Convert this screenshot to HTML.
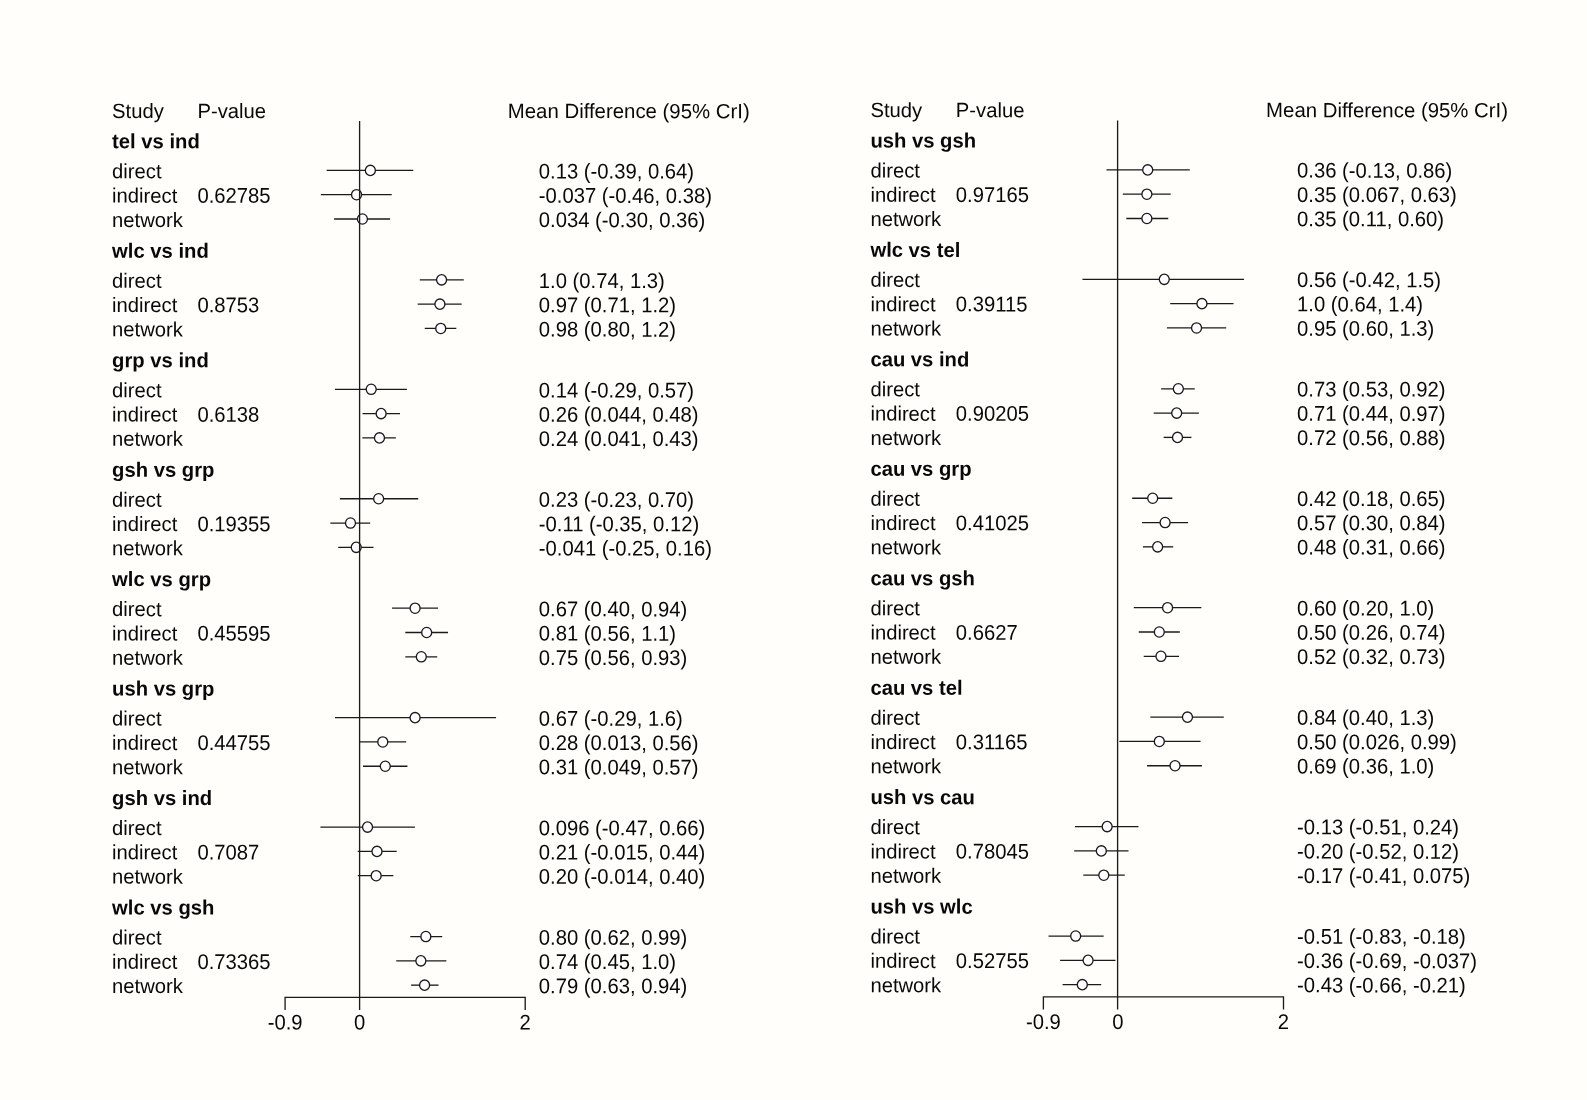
<!DOCTYPE html>
<html><head><meta charset="utf-8"><title>Forest plot</title>
<style>
html,body{margin:0;padding:0;background:#fffefa;}
body{width:1587px;height:1100px;overflow:hidden;}
svg{display:block;will-change:transform;}
text{font-family:"Liberation Sans",sans-serif;font-size:20px;fill:#080808;}
text.b{font-weight:bold;}
.ln line,.ln path{stroke:#1a1a1a;stroke-width:1.33;stroke-linecap:square;}
.ci ellipse{fill:#fff;stroke:#1a1a1a;stroke-width:1.33;}
</style></head><body>
<svg width="1587" height="1100" viewBox="0 0 1587 1100">
<g>
<rect width="1587" height="1100" fill="#fffefa"/>
<g>
<text transform="translate(112.10 118.00) skewY(0.05) scale(1.012 1.03)">Study</text>
<text transform="translate(197.50 118.00) skewY(0.05) scale(1.012 1.03)">P-value</text>
<text transform="translate(507.80 118.00) skewY(0.05) scale(1.019 1.03)">Mean Difference (95% CrI)</text>
<text transform="translate(112.10 148.30) skewY(0.05) scale(1.012 1.03)" class="b">tel vs ind</text>
<text transform="translate(112.10 178.30) skewY(0.05) scale(1.012 1.03)">direct</text>
<text transform="translate(538.80 178.50) skewY(0.05) scale(1.012 1.065)">0.13 (-0.39, 0.64)</text>
<text transform="translate(112.10 202.60) skewY(0.05) scale(1.012 1.03)">indirect</text>
<text transform="translate(197.50 202.80) skewY(0.05) scale(1.012 1.065)">0.62785</text>
<text transform="translate(538.80 202.80) skewY(0.05) scale(1.012 1.065)">-0.037 (-0.46, 0.38)</text>
<text transform="translate(112.10 226.90) skewY(0.05) scale(1.012 1.03)">network</text>
<text transform="translate(538.80 227.10) skewY(0.05) scale(1.012 1.065)">0.034 (-0.30, 0.36)</text>
<text transform="translate(112.10 257.75) skewY(0.05) scale(1.012 1.03)" class="b">wlc vs ind</text>
<text transform="translate(112.10 287.75) skewY(0.05) scale(1.012 1.03)">direct</text>
<text transform="translate(538.80 287.95) skewY(0.05) scale(1.012 1.065)">1.0 (0.74, 1.3)</text>
<text transform="translate(112.10 312.05) skewY(0.05) scale(1.012 1.03)">indirect</text>
<text transform="translate(197.50 312.25) skewY(0.05) scale(1.012 1.065)">0.8753</text>
<text transform="translate(538.80 312.25) skewY(0.05) scale(1.012 1.065)">0.97 (0.71, 1.2)</text>
<text transform="translate(112.10 336.35) skewY(0.05) scale(1.012 1.03)">network</text>
<text transform="translate(538.80 336.55) skewY(0.05) scale(1.012 1.065)">0.98 (0.80, 1.2)</text>
<text transform="translate(112.10 367.20) skewY(0.05) scale(1.012 1.03)" class="b">grp vs ind</text>
<text transform="translate(112.10 397.20) skewY(0.05) scale(1.012 1.03)">direct</text>
<text transform="translate(538.80 397.40) skewY(0.05) scale(1.012 1.065)">0.14 (-0.29, 0.57)</text>
<text transform="translate(112.10 421.50) skewY(0.05) scale(1.012 1.03)">indirect</text>
<text transform="translate(197.50 421.70) skewY(0.05) scale(1.012 1.065)">0.6138</text>
<text transform="translate(538.80 421.70) skewY(0.05) scale(1.012 1.065)">0.26 (0.044, 0.48)</text>
<text transform="translate(112.10 445.80) skewY(0.05) scale(1.012 1.03)">network</text>
<text transform="translate(538.80 446.00) skewY(0.05) scale(1.012 1.065)">0.24 (0.041, 0.43)</text>
<text transform="translate(112.10 476.65) skewY(0.05) scale(1.012 1.03)" class="b">gsh vs grp</text>
<text transform="translate(112.10 506.65) skewY(0.05) scale(1.012 1.03)">direct</text>
<text transform="translate(538.80 506.85) skewY(0.05) scale(1.012 1.065)">0.23 (-0.23, 0.70)</text>
<text transform="translate(112.10 530.95) skewY(0.05) scale(1.012 1.03)">indirect</text>
<text transform="translate(197.50 531.15) skewY(0.05) scale(1.012 1.065)">0.19355</text>
<text transform="translate(538.80 531.15) skewY(0.05) scale(1.012 1.065)">-0.11 (-0.35, 0.12)</text>
<text transform="translate(112.10 555.25) skewY(0.05) scale(1.012 1.03)">network</text>
<text transform="translate(538.80 555.45) skewY(0.05) scale(1.012 1.065)">-0.041 (-0.25, 0.16)</text>
<text transform="translate(112.10 586.10) skewY(0.05) scale(1.012 1.03)" class="b">wlc vs grp</text>
<text transform="translate(112.10 616.10) skewY(0.05) scale(1.012 1.03)">direct</text>
<text transform="translate(538.80 616.30) skewY(0.05) scale(1.012 1.065)">0.67 (0.40, 0.94)</text>
<text transform="translate(112.10 640.40) skewY(0.05) scale(1.012 1.03)">indirect</text>
<text transform="translate(197.50 640.60) skewY(0.05) scale(1.012 1.065)">0.45595</text>
<text transform="translate(538.80 640.60) skewY(0.05) scale(1.012 1.065)">0.81 (0.56, 1.1)</text>
<text transform="translate(112.10 664.70) skewY(0.05) scale(1.012 1.03)">network</text>
<text transform="translate(538.80 664.90) skewY(0.05) scale(1.012 1.065)">0.75 (0.56, 0.93)</text>
<text transform="translate(112.10 695.55) skewY(0.05) scale(1.012 1.03)" class="b">ush vs grp</text>
<text transform="translate(112.10 725.55) skewY(0.05) scale(1.012 1.03)">direct</text>
<text transform="translate(538.80 725.75) skewY(0.05) scale(1.012 1.065)">0.67 (-0.29, 1.6)</text>
<text transform="translate(112.10 749.85) skewY(0.05) scale(1.012 1.03)">indirect</text>
<text transform="translate(197.50 750.05) skewY(0.05) scale(1.012 1.065)">0.44755</text>
<text transform="translate(538.80 750.05) skewY(0.05) scale(1.012 1.065)">0.28 (0.013, 0.56)</text>
<text transform="translate(112.10 774.15) skewY(0.05) scale(1.012 1.03)">network</text>
<text transform="translate(538.80 774.35) skewY(0.05) scale(1.012 1.065)">0.31 (0.049, 0.57)</text>
<text transform="translate(112.10 805.00) skewY(0.05) scale(1.012 1.03)" class="b">gsh vs ind</text>
<text transform="translate(112.10 835.00) skewY(0.05) scale(1.012 1.03)">direct</text>
<text transform="translate(538.80 835.20) skewY(0.05) scale(1.012 1.065)">0.096 (-0.47, 0.66)</text>
<text transform="translate(112.10 859.30) skewY(0.05) scale(1.012 1.03)">indirect</text>
<text transform="translate(197.50 859.50) skewY(0.05) scale(1.012 1.065)">0.7087</text>
<text transform="translate(538.80 859.50) skewY(0.05) scale(1.012 1.065)">0.21 (-0.015, 0.44)</text>
<text transform="translate(112.10 883.60) skewY(0.05) scale(1.012 1.03)">network</text>
<text transform="translate(538.80 883.80) skewY(0.05) scale(1.012 1.065)">0.20 (-0.014, 0.40)</text>
<text transform="translate(112.10 914.45) skewY(0.05) scale(1.012 1.03)" class="b">wlc vs gsh</text>
<text transform="translate(112.10 944.45) skewY(0.05) scale(1.012 1.03)">direct</text>
<text transform="translate(538.80 944.65) skewY(0.05) scale(1.012 1.065)">0.80 (0.62, 0.99)</text>
<text transform="translate(112.10 968.75) skewY(0.05) scale(1.012 1.03)">indirect</text>
<text transform="translate(197.50 968.95) skewY(0.05) scale(1.012 1.065)">0.73365</text>
<text transform="translate(538.80 968.95) skewY(0.05) scale(1.012 1.065)">0.74 (0.45, 1.0)</text>
<text transform="translate(112.10 993.05) skewY(0.05) scale(1.012 1.03)">network</text>
<text transform="translate(538.80 993.25) skewY(0.05) scale(1.012 1.065)">0.79 (0.63, 0.94)</text>
<g class="ln"><line x1="327.31" y1="170.40" x2="412.59" y2="170.40"/><line x1="321.51" y1="194.70" x2="391.06" y2="194.70"/><line x1="334.76" y1="219.00" x2="389.41" y2="219.00"/><line x1="420.46" y1="279.85" x2="463.10" y2="279.85"/><line x1="418.39" y1="304.15" x2="461.03" y2="304.15"/><line x1="425.43" y1="328.45" x2="455.65" y2="328.45"/><line x1="335.59" y1="389.30" x2="406.22" y2="389.30"/><line x1="363.24" y1="413.60" x2="399.34" y2="413.60"/><line x1="362.99" y1="437.90" x2="395.20" y2="437.90"/><line x1="340.56" y1="498.75" x2="417.56" y2="498.75"/><line x1="331.03" y1="523.05" x2="369.54" y2="523.05"/><line x1="338.90" y1="547.35" x2="372.85" y2="547.35"/><line x1="392.72" y1="608.20" x2="437.43" y2="608.20"/><line x1="405.97" y1="632.50" x2="447.37" y2="632.50"/><line x1="405.97" y1="656.80" x2="436.60" y2="656.80"/><line x1="335.59" y1="717.65" x2="495.39" y2="717.65"/><line x1="360.68" y1="741.95" x2="405.55" y2="741.95"/><line x1="363.66" y1="766.25" x2="406.80" y2="766.25"/><line x1="321.10" y1="827.10" x2="414.25" y2="827.10"/><line x1="358.36" y1="851.40" x2="396.03" y2="851.40"/><line x1="358.44" y1="875.70" x2="392.72" y2="875.70"/><line x1="410.94" y1="936.55" x2="441.57" y2="936.55"/><line x1="396.86" y1="960.85" x2="445.71" y2="960.85"/><line x1="411.76" y1="985.15" x2="437.85" y2="985.15"/></g>
<g class="ci"><ellipse cx="370.36" cy="170.40" rx="5" ry="5.15"/><ellipse cx="356.54" cy="194.70" rx="5" ry="5.15"/><ellipse cx="362.42" cy="219.00" rx="5" ry="5.15"/><ellipse cx="441.57" cy="279.85" rx="5" ry="5.15"/><ellipse cx="439.92" cy="304.15" rx="5" ry="5.15"/><ellipse cx="440.74" cy="328.45" rx="5" ry="5.15"/><ellipse cx="371.19" cy="389.30" rx="5" ry="5.15"/><ellipse cx="381.13" cy="413.60" rx="5" ry="5.15"/><ellipse cx="379.47" cy="437.90" rx="5" ry="5.15"/><ellipse cx="378.64" cy="498.75" rx="5" ry="5.15"/><ellipse cx="350.49" cy="523.05" rx="5" ry="5.15"/><ellipse cx="356.21" cy="547.35" rx="5" ry="5.15"/><ellipse cx="415.08" cy="608.20" rx="5" ry="5.15"/><ellipse cx="426.67" cy="632.50" rx="5" ry="5.15"/><ellipse cx="421.29" cy="656.80" rx="5" ry="5.15"/><ellipse cx="415.08" cy="717.65" rx="5" ry="5.15"/><ellipse cx="382.78" cy="741.95" rx="5" ry="5.15"/><ellipse cx="385.27" cy="766.25" rx="5" ry="5.15"/><ellipse cx="367.55" cy="827.10" rx="5" ry="5.15"/><ellipse cx="376.99" cy="851.40" rx="5" ry="5.15"/><ellipse cx="376.16" cy="875.70" rx="5" ry="5.15"/><ellipse cx="425.84" cy="936.55" rx="5" ry="5.15"/><ellipse cx="420.87" cy="960.85" rx="5" ry="5.15"/><ellipse cx="424.60" cy="985.15" rx="5" ry="5.15"/></g>
<g class="ln"><line x1="359.60" y1="121.60" x2="359.60" y2="1009.40"/><path d="M285.08 1009.40V997.40H525.20V1009.40" fill="none"/></g>
<text transform="translate(285.08 1029.60) skewY(0.05) scale(1.012 1.065)" text-anchor="middle">-0.9</text>
<text transform="translate(359.60 1029.60) skewY(0.05) scale(1.012 1.065)" text-anchor="middle">0</text>
<text transform="translate(525.20 1029.60) skewY(0.05) scale(1.012 1.065)" text-anchor="middle">2</text>
</g>
<g>
<text transform="translate(870.40 117.10) skewY(0.05) scale(1.012 1.03)">Study</text>
<text transform="translate(955.80 117.10) skewY(0.05) scale(1.012 1.03)">P-value</text>
<text transform="translate(1266.10 117.10) skewY(0.05) scale(1.019 1.03)">Mean Difference (95% CrI)</text>
<text transform="translate(870.40 147.40) skewY(0.05) scale(1.012 1.03)" class="b">ush vs gsh</text>
<text transform="translate(870.40 177.40) skewY(0.05) scale(1.012 1.03)">direct</text>
<text transform="translate(1297.10 177.60) skewY(0.05) scale(1.012 1.065)">0.36 (-0.13, 0.86)</text>
<text transform="translate(870.40 201.70) skewY(0.05) scale(1.012 1.03)">indirect</text>
<text transform="translate(955.80 201.90) skewY(0.05) scale(1.012 1.065)">0.97165</text>
<text transform="translate(1297.10 201.90) skewY(0.05) scale(1.012 1.065)">0.35 (0.067, 0.63)</text>
<text transform="translate(870.40 226.00) skewY(0.05) scale(1.012 1.03)">network</text>
<text transform="translate(1297.10 226.20) skewY(0.05) scale(1.012 1.065)">0.35 (0.11, 0.60)</text>
<text transform="translate(870.40 256.85) skewY(0.05) scale(1.012 1.03)" class="b">wlc vs tel</text>
<text transform="translate(870.40 286.85) skewY(0.05) scale(1.012 1.03)">direct</text>
<text transform="translate(1297.10 287.05) skewY(0.05) scale(1.012 1.065)">0.56 (-0.42, 1.5)</text>
<text transform="translate(870.40 311.15) skewY(0.05) scale(1.012 1.03)">indirect</text>
<text transform="translate(955.80 311.35) skewY(0.05) scale(1.012 1.065)">0.39115</text>
<text transform="translate(1297.10 311.35) skewY(0.05) scale(1.012 1.065)">1.0 (0.64, 1.4)</text>
<text transform="translate(870.40 335.45) skewY(0.05) scale(1.012 1.03)">network</text>
<text transform="translate(1297.10 335.65) skewY(0.05) scale(1.012 1.065)">0.95 (0.60, 1.3)</text>
<text transform="translate(870.40 366.30) skewY(0.05) scale(1.012 1.03)" class="b">cau vs ind</text>
<text transform="translate(870.40 396.30) skewY(0.05) scale(1.012 1.03)">direct</text>
<text transform="translate(1297.10 396.50) skewY(0.05) scale(1.012 1.065)">0.73 (0.53, 0.92)</text>
<text transform="translate(870.40 420.60) skewY(0.05) scale(1.012 1.03)">indirect</text>
<text transform="translate(955.80 420.80) skewY(0.05) scale(1.012 1.065)">0.90205</text>
<text transform="translate(1297.10 420.80) skewY(0.05) scale(1.012 1.065)">0.71 (0.44, 0.97)</text>
<text transform="translate(870.40 444.90) skewY(0.05) scale(1.012 1.03)">network</text>
<text transform="translate(1297.10 445.10) skewY(0.05) scale(1.012 1.065)">0.72 (0.56, 0.88)</text>
<text transform="translate(870.40 475.75) skewY(0.05) scale(1.012 1.03)" class="b">cau vs grp</text>
<text transform="translate(870.40 505.75) skewY(0.05) scale(1.012 1.03)">direct</text>
<text transform="translate(1297.10 505.95) skewY(0.05) scale(1.012 1.065)">0.42 (0.18, 0.65)</text>
<text transform="translate(870.40 530.05) skewY(0.05) scale(1.012 1.03)">indirect</text>
<text transform="translate(955.80 530.25) skewY(0.05) scale(1.012 1.065)">0.41025</text>
<text transform="translate(1297.10 530.25) skewY(0.05) scale(1.012 1.065)">0.57 (0.30, 0.84)</text>
<text transform="translate(870.40 554.35) skewY(0.05) scale(1.012 1.03)">network</text>
<text transform="translate(1297.10 554.55) skewY(0.05) scale(1.012 1.065)">0.48 (0.31, 0.66)</text>
<text transform="translate(870.40 585.20) skewY(0.05) scale(1.012 1.03)" class="b">cau vs gsh</text>
<text transform="translate(870.40 615.20) skewY(0.05) scale(1.012 1.03)">direct</text>
<text transform="translate(1297.10 615.40) skewY(0.05) scale(1.012 1.065)">0.60 (0.20, 1.0)</text>
<text transform="translate(870.40 639.50) skewY(0.05) scale(1.012 1.03)">indirect</text>
<text transform="translate(955.80 639.70) skewY(0.05) scale(1.012 1.065)">0.6627</text>
<text transform="translate(1297.10 639.70) skewY(0.05) scale(1.012 1.065)">0.50 (0.26, 0.74)</text>
<text transform="translate(870.40 663.80) skewY(0.05) scale(1.012 1.03)">network</text>
<text transform="translate(1297.10 664.00) skewY(0.05) scale(1.012 1.065)">0.52 (0.32, 0.73)</text>
<text transform="translate(870.40 694.65) skewY(0.05) scale(1.012 1.03)" class="b">cau vs tel</text>
<text transform="translate(870.40 724.65) skewY(0.05) scale(1.012 1.03)">direct</text>
<text transform="translate(1297.10 724.85) skewY(0.05) scale(1.012 1.065)">0.84 (0.40, 1.3)</text>
<text transform="translate(870.40 748.95) skewY(0.05) scale(1.012 1.03)">indirect</text>
<text transform="translate(955.80 749.15) skewY(0.05) scale(1.012 1.065)">0.31165</text>
<text transform="translate(1297.10 749.15) skewY(0.05) scale(1.012 1.065)">0.50 (0.026, 0.99)</text>
<text transform="translate(870.40 773.25) skewY(0.05) scale(1.012 1.03)">network</text>
<text transform="translate(1297.10 773.45) skewY(0.05) scale(1.012 1.065)">0.69 (0.36, 1.0)</text>
<text transform="translate(870.40 804.10) skewY(0.05) scale(1.012 1.03)" class="b">ush vs cau</text>
<text transform="translate(870.40 834.10) skewY(0.05) scale(1.012 1.03)">direct</text>
<text transform="translate(1297.10 834.30) skewY(0.05) scale(1.012 1.065)">-0.13 (-0.51, 0.24)</text>
<text transform="translate(870.40 858.40) skewY(0.05) scale(1.012 1.03)">indirect</text>
<text transform="translate(955.80 858.60) skewY(0.05) scale(1.012 1.065)">0.78045</text>
<text transform="translate(1297.10 858.60) skewY(0.05) scale(1.012 1.065)">-0.20 (-0.52, 0.12)</text>
<text transform="translate(870.40 882.70) skewY(0.05) scale(1.012 1.03)">network</text>
<text transform="translate(1297.10 882.90) skewY(0.05) scale(1.012 1.065)">-0.17 (-0.41, 0.075)</text>
<text transform="translate(870.40 913.55) skewY(0.05) scale(1.012 1.03)" class="b">ush vs wlc</text>
<text transform="translate(870.40 943.55) skewY(0.05) scale(1.012 1.03)">direct</text>
<text transform="translate(1297.10 943.75) skewY(0.05) scale(1.012 1.065)">-0.51 (-0.83, -0.18)</text>
<text transform="translate(870.40 967.85) skewY(0.05) scale(1.012 1.03)">indirect</text>
<text transform="translate(955.80 968.05) skewY(0.05) scale(1.012 1.065)">0.52755</text>
<text transform="translate(1297.10 968.05) skewY(0.05) scale(1.012 1.065)">-0.36 (-0.69, -0.037)</text>
<text transform="translate(870.40 992.15) skewY(0.05) scale(1.012 1.03)">network</text>
<text transform="translate(1297.10 992.35) skewY(0.05) scale(1.012 1.065)">-0.43 (-0.66, -0.21)</text>
<g class="ln"><line x1="1107.14" y1="169.90" x2="1189.11" y2="169.90"/><line x1="1123.45" y1="194.20" x2="1170.06" y2="194.20"/><line x1="1127.01" y1="218.50" x2="1167.58" y2="218.50"/><line x1="1083.12" y1="279.35" x2="1243.34" y2="279.35"/><line x1="1170.89" y1="303.65" x2="1232.83" y2="303.65"/><line x1="1167.58" y1="327.95" x2="1225.54" y2="327.95"/><line x1="1161.78" y1="388.80" x2="1194.08" y2="388.80"/><line x1="1154.33" y1="413.10" x2="1198.22" y2="413.10"/><line x1="1164.27" y1="437.40" x2="1190.76" y2="437.40"/><line x1="1132.80" y1="498.25" x2="1171.72" y2="498.25"/><line x1="1142.74" y1="522.55" x2="1187.45" y2="522.55"/><line x1="1143.57" y1="546.85" x2="1172.55" y2="546.85"/><line x1="1134.46" y1="607.70" x2="1200.70" y2="607.70"/><line x1="1139.43" y1="632.00" x2="1179.17" y2="632.00"/><line x1="1144.40" y1="656.30" x2="1178.34" y2="656.30"/><line x1="1151.02" y1="717.15" x2="1223.14" y2="717.15"/><line x1="1120.05" y1="741.45" x2="1199.87" y2="741.45"/><line x1="1147.71" y1="765.75" x2="1201.28" y2="765.75"/><line x1="1075.67" y1="826.60" x2="1137.77" y2="826.60"/><line x1="1074.84" y1="850.90" x2="1127.84" y2="850.90"/><line x1="1083.95" y1="875.20" x2="1124.11" y2="875.20"/><line x1="1049.18" y1="936.05" x2="1103.00" y2="936.05"/><line x1="1060.77" y1="960.35" x2="1114.84" y2="960.35"/><line x1="1063.25" y1="984.65" x2="1100.51" y2="984.65"/></g>
<g class="ci"><ellipse cx="1147.71" cy="169.90" rx="5" ry="5.15"/><ellipse cx="1146.88" cy="194.20" rx="5" ry="5.15"/><ellipse cx="1146.88" cy="218.50" rx="5" ry="5.15"/><ellipse cx="1164.27" cy="279.35" rx="5" ry="5.15"/><ellipse cx="1201.94" cy="303.65" rx="5" ry="5.15"/><ellipse cx="1196.56" cy="327.95" rx="5" ry="5.15"/><ellipse cx="1178.34" cy="388.80" rx="5" ry="5.15"/><ellipse cx="1176.69" cy="413.10" rx="5" ry="5.15"/><ellipse cx="1177.52" cy="437.40" rx="5" ry="5.15"/><ellipse cx="1152.68" cy="498.25" rx="5" ry="5.15"/><ellipse cx="1165.10" cy="522.55" rx="5" ry="5.15"/><ellipse cx="1157.64" cy="546.85" rx="5" ry="5.15"/><ellipse cx="1167.58" cy="607.70" rx="5" ry="5.15"/><ellipse cx="1159.30" cy="632.00" rx="5" ry="5.15"/><ellipse cx="1160.96" cy="656.30" rx="5" ry="5.15"/><ellipse cx="1187.45" cy="717.15" rx="5" ry="5.15"/><ellipse cx="1159.30" cy="741.45" rx="5" ry="5.15"/><ellipse cx="1175.03" cy="765.75" rx="5" ry="5.15"/><ellipse cx="1107.14" cy="826.60" rx="5" ry="5.15"/><ellipse cx="1101.34" cy="850.90" rx="5" ry="5.15"/><ellipse cx="1103.82" cy="875.20" rx="5" ry="5.15"/><ellipse cx="1075.67" cy="936.05" rx="5" ry="5.15"/><ellipse cx="1088.09" cy="960.35" rx="5" ry="5.15"/><ellipse cx="1082.30" cy="984.65" rx="5" ry="5.15"/></g>
<g class="ln"><line x1="1117.60" y1="121.10" x2="1117.60" y2="1008.90"/><path d="M1043.38 1008.90V996.90H1283.50V1008.90" fill="none"/></g>
<text transform="translate(1043.38 1029.10) skewY(0.05) scale(1.012 1.065)" text-anchor="middle">-0.9</text>
<text transform="translate(1117.90 1029.10) skewY(0.05) scale(1.012 1.065)" text-anchor="middle">0</text>
<text transform="translate(1283.50 1029.10) skewY(0.05) scale(1.012 1.065)" text-anchor="middle">2</text>
</g>
</g>
</svg>
</body></html>
